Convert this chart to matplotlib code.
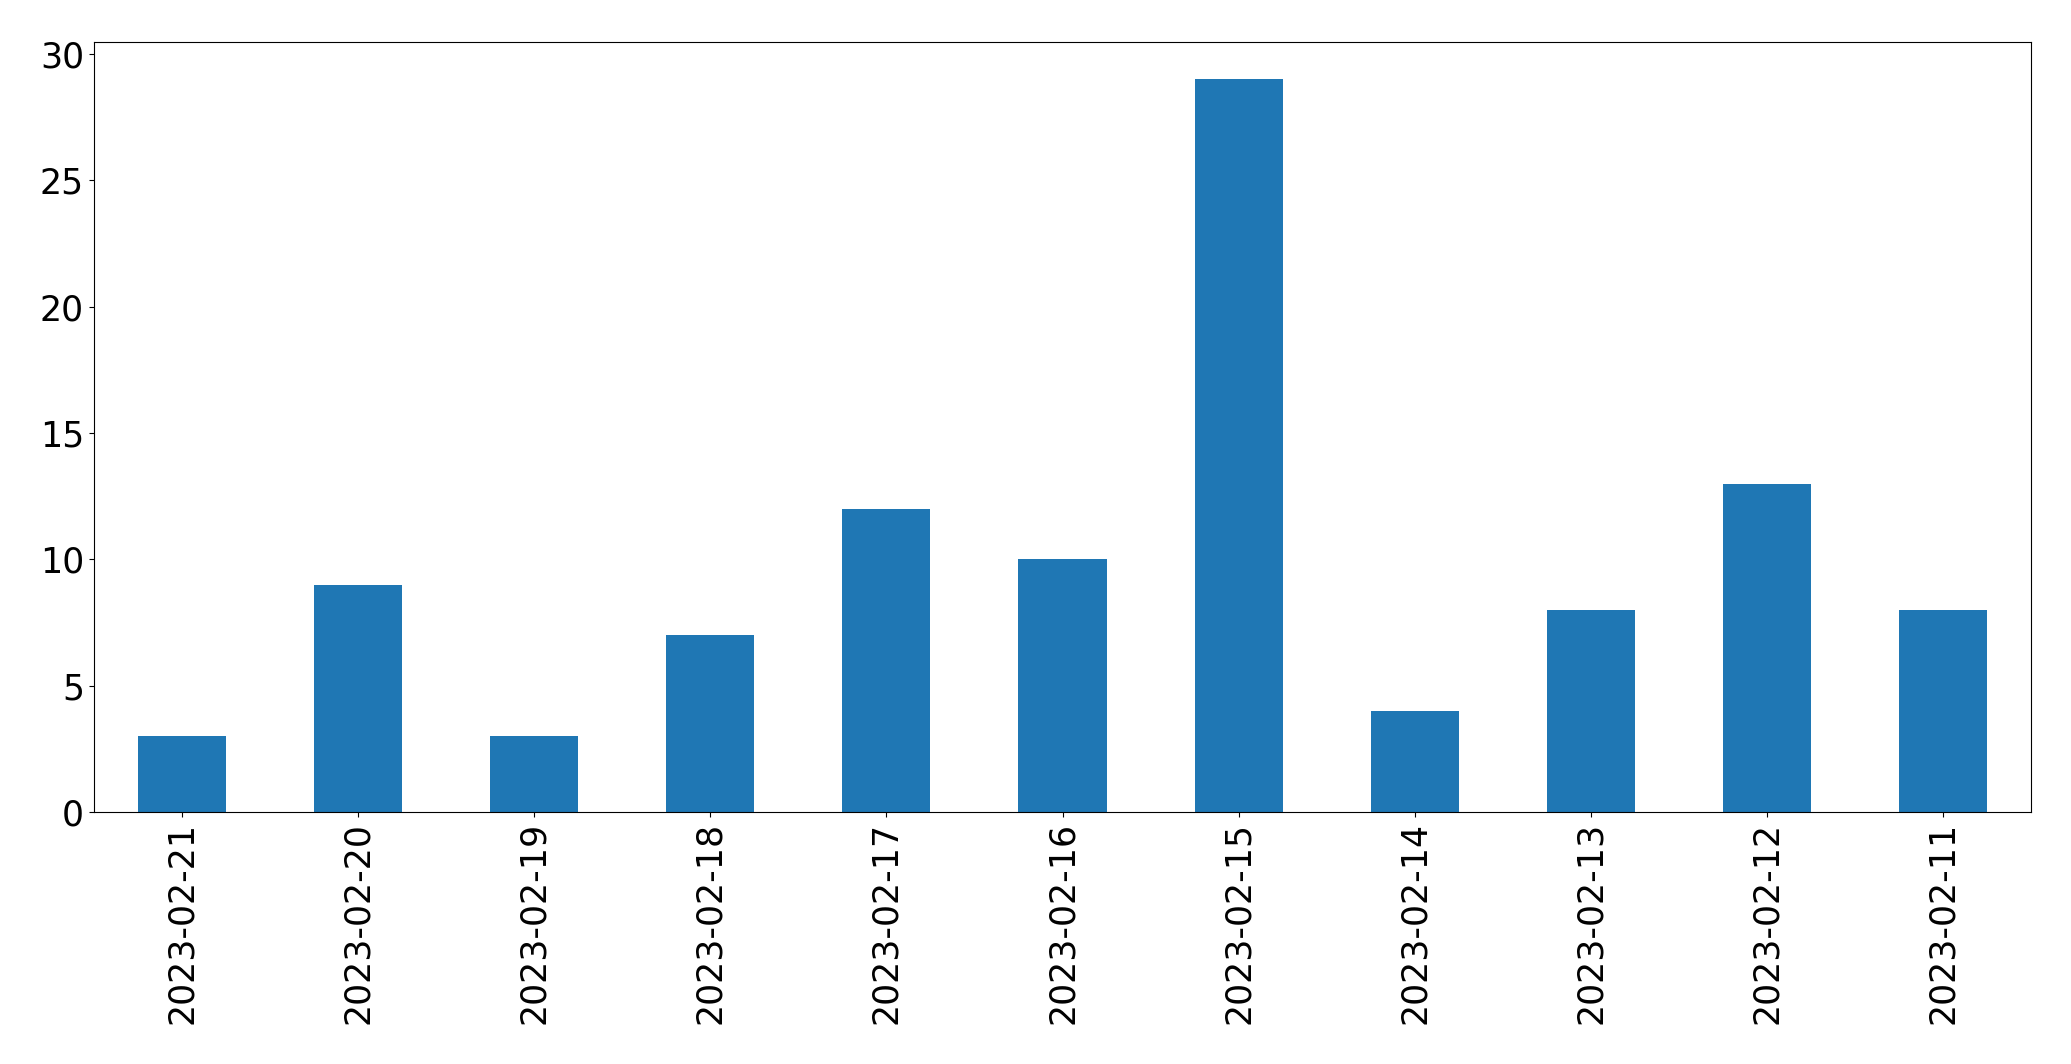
import matplotlib
matplotlib.use('Agg')
import matplotlib.pyplot as plt
import numpy as np

# 每日计数（按日期倒序）
dates = ["2023-02-21", "2023-02-20", "2023-02-19", "2023-02-18", "2023-02-17",
         "2023-02-16", "2023-02-15", "2023-02-14", "2023-02-13", "2023-02-12",
         "2023-02-11"]
counts = [3, 9, 3, 7, 12, 10, 29, 4, 8, 13, 8]

fig = plt.figure(figsize=(20.71, 10.64), dpi=100)
ax = fig.add_axes([0.0453, 0.2366, 0.9355, 0.7236])

x = np.arange(len(dates))
ax.bar(x, counts, width=0.5, color='#1f77b4')
ax.set_xlim(-0.5, len(dates) - 0.5)
ax.set_ylim(0, 30.45)
ax.set_xticks(x)
ax.set_xticklabels(dates, rotation=90, fontsize=25)
ax.tick_params(axis='y', labelsize=25)

plt.savefig("out.png", dpi=100)
